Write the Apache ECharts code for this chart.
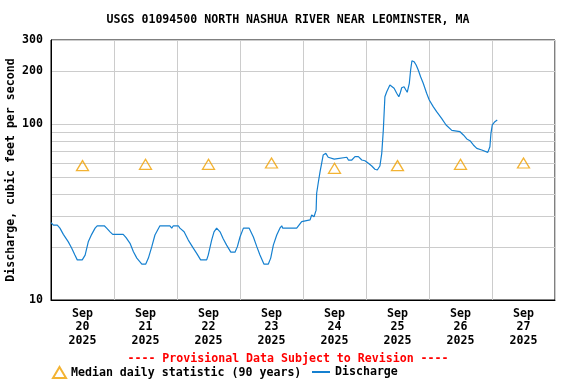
<!DOCTYPE html>
<html><head><meta charset="utf-8">
<script src="https://cdn.jsdelivr.net/npm/echarts@6/dist/echarts.min.js"></script>
<style>html,body{margin:0;padding:0;background:#fff}#c{width:576px;height:384px}</style>
</head><body><div id="c"></div>
<script>
const chartTitle = 'USGS 01094500 NORTH NASHUA RIVER NEAR LEOMINSTER, MA';
const yAxisTitle = 'Discharge, cubic feet per second';
const provisionalNote = '---- Provisional Data Subject to Revision ----';
const medianName = 'Median daily statistic (90 years)';
const dischargeName = 'Discharge';
// x in hours since Sep 20 2025 00:00
const dayLabels = ['Sep\n20\n2025','Sep\n21\n2025','Sep\n22\n2025','Sep\n23\n2025','Sep\n24\n2025','Sep\n25\n2025','Sep\n26\n2025','Sep\n27\n2025'];
const dayNoonHours = [12,36,60,84,108,132,156,180];
const medianValues = [58,59,59,60,56,58,59,60];
const yLabelValues = [10,100,200,300];
const yGridValues = [10,20,30,40,50,60,70,80,90,100,200,300];
const hours = [0.0,0.9,2.4,3.4,4.7,6.6,7.9,9.1,10.0,11.9,13.0,14.2,15.5,16.8,17.6,20.3,21.2,22.5,23.5,27.5,28.6,30.1,31.4,32.7,34.6,36.1,37.1,38.4,39.6,41.5,45.3,46.0,46.6,48.5,49.1,50.7,52.3,54.2,55.5,57.0,59.3,59.9,61.2,62.1,63.1,64.4,65.6,66.9,68.5,70.1,71.0,72.0,73.3,75.5,77.1,78.4,79.6,81.1,82.8,83.7,84.7,86.0,87.2,87.9,88.3,93.6,95.5,98.7,99.3,100.2,101.0,101.2,101.8,102.5,103.1,103.7,104.7,105.6,106.3,107.9,108.5,112.7,113.3,114.6,115.8,117.1,118.4,119.6,120.9,122.2,123.4,124.3,125.3,126.0,126.6,127.2,127.9,129.1,129.8,130.7,131.7,132.5,133.0,133.6,134.5,135.2,135.7,136.5,137.0,137.5,138.3,139.1,139.9,140.8,141.8,143.1,144.1,145.6,146.9,148.8,150.5,152.7,153.3,155.8,157.1,158.4,159.6,160.9,162.2,164.1,166.4,167.2,167.6,168.1,169.1,170.0];
const discharge = [27.5,26.6,26.6,25.6,23.6,21.4,19.7,18.0,16.9,16.9,18.0,21.4,23.6,25.6,26.4,26.4,25.6,24.4,23.6,23.6,22.6,21.0,18.8,17.3,16.0,16.0,17.3,20.1,23.4,26.4,26.4,25.6,26.4,26.4,25.6,24.4,21.9,19.7,18.4,16.9,16.9,18.0,21.9,24.4,25.6,24.4,22.3,20.5,18.7,18.7,20.1,22.8,25.6,25.6,22.8,20.1,18.0,16.0,16.0,17.3,20.5,23.4,25.6,26.4,25.6,25.6,27.9,28.5,30.4,29.7,32.4,40.4,46.2,53.6,59.8,66.7,68.1,64.7,63.2,63.2,64.7,64.7,62.4,62.4,65.2,65.2,62.4,61.8,59.8,57.7,55.3,54.8,57.7,68.1,92.4,142.9,152.6,166.5,168.7,159.5,149.4,142.9,149.4,160.7,162.8,156.0,151.4,170.3,202.6,228.8,225.9,216.3,202.6,185.6,170.3,149.4,136.8,125.4,117.5,107.7,98.7,92.0,90.4,90.4,86.6,82.2,80.4,76.0,72.7,71.1,69.0,74.3,88.5,98.7,103.0,105.3];

const FONT = 'DejaVu Sans Mono';
const FS = 11.6;
const lineData = hours.map((h, i) => [h, discharge[i]]);
const medianData = dayNoonHours.map((h, i) => [h, medianValues[i]]);

const chart = echarts.init(document.getElementById('c'), null, {renderer: 'canvas'});
chart.setOption({
  animation: false,
  backgroundColor: '#fff',
  textStyle: {fontFamily: FONT, fontWeight: 'bold', fontSize: FS, color: '#000'},
  title: [
    {text: chartTitle, left: 'center', top: 9, textStyle: {fontFamily: FONT, fontWeight: 'bold', fontSize: FS, color: '#000'}},
    {text: provisionalNote, left: 'center', top: 348, textStyle: {fontFamily: FONT, fontWeight: 'bold', fontSize: FS, color: '#ff0000'}}
  ],
  grid: {left: 51, right: 21, top: 40, bottom: 84, show: true, borderColor: '#000', borderWidth: 1,
         containLabel: false, outerBoundsMode: 'none'},
  xAxis: {
    type: 'value', min: 0, max: 192, interval: 24,
    axisLine: {show: true, lineStyle: {color: '#000', width: 1}},
    axisTick: {show: false},
    splitLine: {show: true, lineStyle: {color: '#cccccc', width: 1}},
    axisLabel: {
      customValues: dayNoonHours,
      margin: 7,
      lineHeight: 13.5,
      fontFamily: FONT, fontWeight: 'bold', fontSize: FS, color: '#000',
      formatter: v => dayLabels[Math.round((v - 12) / 24)] || ''
    }
  },
  yAxis: {
    type: 'log', logBase: 10, min: 10, max: 300,
    name: yAxisTitle, nameLocation: 'middle', nameGap: 34, nameMoveOverlap: false,
    nameTextStyle: {fontFamily: FONT, fontWeight: 'bold', fontSize: FS, color: '#000'},
    axisLine: {show: true, lineStyle: {color: '#000', width: 1}},
    axisTick: {show: false, customValues: yGridValues},
    splitLine: {show: true, lineStyle: {color: '#cccccc', width: 1}},
    axisLabel: {
      customValues: yLabelValues, margin: 8,
      fontFamily: FONT, fontWeight: 'bold', fontSize: FS, color: '#000',
      showMinLabel: true, showMaxLabel: true
    }
  },
  legend: [
    {data: [medianName], left: 47, top: 361, itemWidth: 13, itemHeight: 11, itemGap: 8,
     textStyle: {fontFamily: FONT, fontWeight: 'bold', fontSize: FS, color: '#000'}},
    {data: [{name: dischargeName, icon: 'rect'}], left: 307, top: 361, itemWidth: 18, itemHeight: 2,
     textStyle: {fontFamily: FONT, fontWeight: 'bold', fontSize: FS, color: '#000'}}
  ],
  series: [
    {
      name: medianName, type: 'scatter', data: medianData,
      symbol: 'triangle', symbolSize: [12, 10],
      itemStyle: {color: 'rgba(255,255,255,0)', borderColor: '#f0a000', borderWidth: 1.3},
      z: 3
    },
    {
      name: dischargeName, type: 'line', data: lineData,
      symbol: 'none', showSymbol: false,
      lineStyle: {color: '#1580d0', width: 1.2},
      itemStyle: {color: '#1580d0'},
      z: 2
    }
  ]
});
</script></body></html>
